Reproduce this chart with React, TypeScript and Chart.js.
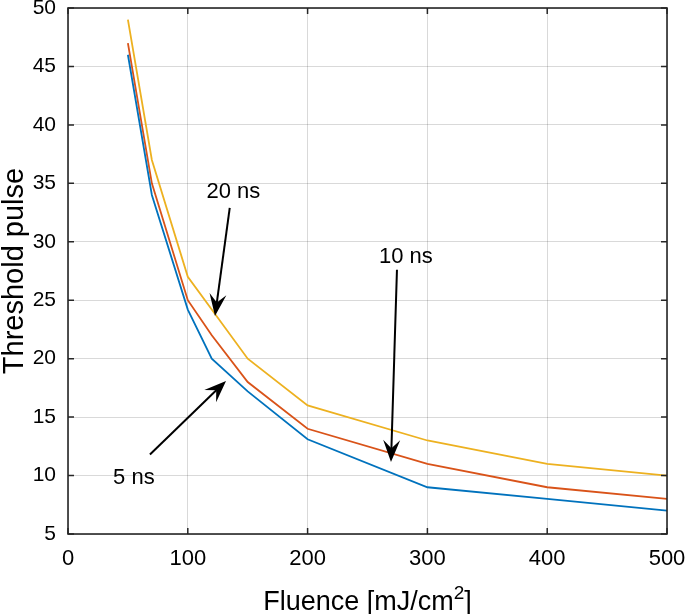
import React, { useEffect, useRef } from "react";
import { Chart, registerables } from "chart.js";

Chart.register(...registerables);

const fluence = [50, 70, 100, 120, 150, 200, 300, 400, 500];
const pulse5ns = [46, 34, 24.2, 20, 17.2, 13.1, 9, 8, 7];
const pulse10ns = [47, 35, 25, 22, 18, 14, 11, 9, 8];
const pulse20ns = [49, 37, 27, 24.2, 20, 16, 13, 11, 10];
const seriesLabels = ["5 ns", "10 ns", "20 ns"];
const seriesColors = ["#0072BD", "#D95319", "#EDB120"];

const xTicks = [0, 100, 200, 300, 400, 500];
const yTicks = [5, 10, 15, 20, 25, 30, 35, 40, 45, 50];

const xTitleMain = "Fluence [mJ/cm";
const xTitleSup = "2";
const xTitleEnd = "]";
const yTitle = "Threshold pulse";

// annotation text position and arrow (start -> tip), in data units
const noteLabels = ["20 ns", "10 ns", "5 ns"];
const noteTextX = [138, 282, 55];
const noteTextY = [34.3, 28.7, 9.8];
const arrowFromX = [135, 274.6, 68.4];
const arrowFromY = [32.9, 27.6, 11.8];
const arrowToX = [122.7, 269.6, 131.9];
const arrowToY = [23.65, 11.16, 18.1];

const FONT = "'Liberation Sans', Arial, Helvetica, sans-serif";

const zeroPadding = (s: any) => {
  s.paddingTop = 0;
  s.paddingBottom = 0;
  s.paddingLeft = 0;
  s.paddingRight = 0;
};

const decorPlugin = {
  id: "decor",
  afterDatasetsDraw(chart: any) {
    const { ctx, chartArea } = chart;
    const xs = chart.scales.x;
    const ys = chart.scales.y;
    const { left, right, top, bottom } = chartArea;
    ctx.save();
    // inner ticks
    ctx.strokeStyle = "#262626";
    ctx.lineWidth = 1.5;
    const tl = 6;
    ctx.beginPath();
    xTicks.forEach((v) => {
      const px = xs.getPixelForValue(v);
      ctx.moveTo(px, bottom);
      ctx.lineTo(px, bottom - tl);
      ctx.moveTo(px, top);
      ctx.lineTo(px, top + tl);
    });
    yTicks.forEach((v) => {
      const py = ys.getPixelForValue(v);
      ctx.moveTo(left, py);
      ctx.lineTo(left + tl, py);
      ctx.moveTo(right, py);
      ctx.lineTo(right - tl, py);
    });
    ctx.stroke();
    // box
    ctx.lineWidth = 1.6;
    ctx.strokeRect(left, top, right - left, bottom - top);

    // x title with superscript
    ctx.fillStyle = "#000";
    ctx.textBaseline = "alphabetic";
    ctx.textAlign = "left";
    const mainFont = `27px ${FONT}`;
    const supFont = `19px ${FONT}`;
    ctx.font = mainFont;
    const w1 = ctx.measureText(xTitleMain).width;
    const w3 = ctx.measureText(xTitleEnd).width;
    ctx.font = supFont;
    const w2 = ctx.measureText(xTitleSup).width;
    const total = w1 + w2 + w3;
    const cx = (left + right) / 2;
    let tx = cx - total / 2;
    const base = 610;
    ctx.font = mainFont;
    ctx.fillText(xTitleMain, tx, base);
    tx += w1;
    ctx.font = supFont;
    ctx.fillText(xTitleSup, tx, base - 11);
    tx += w2;
    ctx.font = mainFont;
    ctx.fillText(xTitleEnd, tx, base);

    // annotations
    ctx.strokeStyle = "#000";
    ctx.font = `22px ${FONT}`;
    ctx.textAlign = "center";
    ctx.textBaseline = "middle";
    for (let i = 0; i < noteLabels.length; i++) {
      ctx.fillText(
        noteLabels[i],
        xs.getPixelForValue(noteTextX[i]),
        ys.getPixelForValue(noteTextY[i])
      );
      const x0 = xs.getPixelForValue(arrowFromX[i]);
      const y0 = ys.getPixelForValue(arrowFromY[i]);
      const x1 = xs.getPixelForValue(arrowToX[i]);
      const y1 = ys.getPixelForValue(arrowToY[i]);
      const ang = Math.atan2(y1 - y0, x1 - x0);
      const L = 22;
      const W = 8.5;
      const ux = Math.cos(ang);
      const uy = Math.sin(ang);
      const nx = -uy;
      const ny = ux;
      ctx.lineWidth = 2;
      ctx.beginPath();
      ctx.moveTo(x0, y0);
      ctx.lineTo(x1 - ux * L * 0.6, y1 - uy * L * 0.6);
      ctx.stroke();
      ctx.beginPath();
      ctx.moveTo(x1, y1);
      ctx.lineTo(x1 - ux * L + nx * W, y1 - uy * L + ny * W);
      ctx.lineTo(x1 - ux * L * 0.62, y1 - uy * L * 0.62);
      ctx.lineTo(x1 - ux * L - nx * W, y1 - uy * L - ny * W);
      ctx.closePath();
      ctx.fill();
    }
    ctx.restore();
  },
};

export default function App() {
  const canvasRef = useRef<HTMLCanvasElement | null>(null);

  useEffect(() => {
    const canvas = canvasRef.current;
    if (!canvas) return;
    const series = [pulse5ns, pulse10ns, pulse20ns];
    const chart = new Chart(canvas, {
      type: "line",
      data: {
        datasets: series.map((vals, i) => ({
          label: seriesLabels[i],
          data: fluence.map((f, j) => ({ x: f, y: vals[j] })),
          borderColor: seriesColors[i],
          backgroundColor: seriesColors[i],
          borderWidth: 1.8,
          pointRadius: 0,
          tension: 0,
          fill: false,
        })),
      },
      options: {
        animation: false,
        responsive: false,
        maintainAspectRatio: false,
        devicePixelRatio: 1,
        layout: { padding: { top: 8, right: 18, left: 0, bottom: 0 } },
        plugins: {
          legend: { display: false },
          tooltip: { enabled: false },
        },
        scales: {
          x: {
            type: "linear",
            min: 0,
            max: 500,
            afterBuildTicks: (s: any) => {
              s.ticks = xTicks.map((v) => ({ value: v }));
            },
            afterFit: (s: any) => {
              s.height = 80;
              zeroPadding(s);
            },
            grid: {
              color: "rgba(0,0,0,0.15)",
              lineWidth: 1,
              drawTicks: false,
            },
            border: { display: false },
            ticks: {
              color: "#000",
              padding: 14,
              maxRotation: 0,
              font: { family: FONT, size: 22, lineHeight: 1 },
            },
            title: { display: false },
          },
          y: {
            type: "linear",
            min: 5,
            max: 50,
            afterBuildTicks: (s: any) => {
              s.ticks = yTicks.map((v) => ({ value: v }));
            },
            afterFit: (s: any) => {
              s.width = 68;
              zeroPadding(s);
            },
            grid: {
              color: "rgba(0,0,0,0.15)",
              lineWidth: 1,
              drawTicks: false,
            },
            border: { display: false },
            ticks: {
              color: "#000",
              padding: 12,
              font: { family: FONT, size: 21, lineHeight: 1 },
            },
            title: {
              display: true,
              text: yTitle,
              color: "#000",
              font: { family: FONT, size: 29, lineHeight: 1 },
              padding: { top: 0, bottom: 0 },
            },
          },
        },
      },
      plugins: [decorPlugin],
    });
    return () => chart.destroy();
  }, []);

  return (
    <div
      style={{
        position: "absolute",
        left: 0,
        top: 0,
        width: 685,
        height: 614,
        background: "#fff",
      }}
    >
      <canvas ref={canvasRef} width={685} height={614} style={{ display: "block" }} />
    </div>
  );
}
